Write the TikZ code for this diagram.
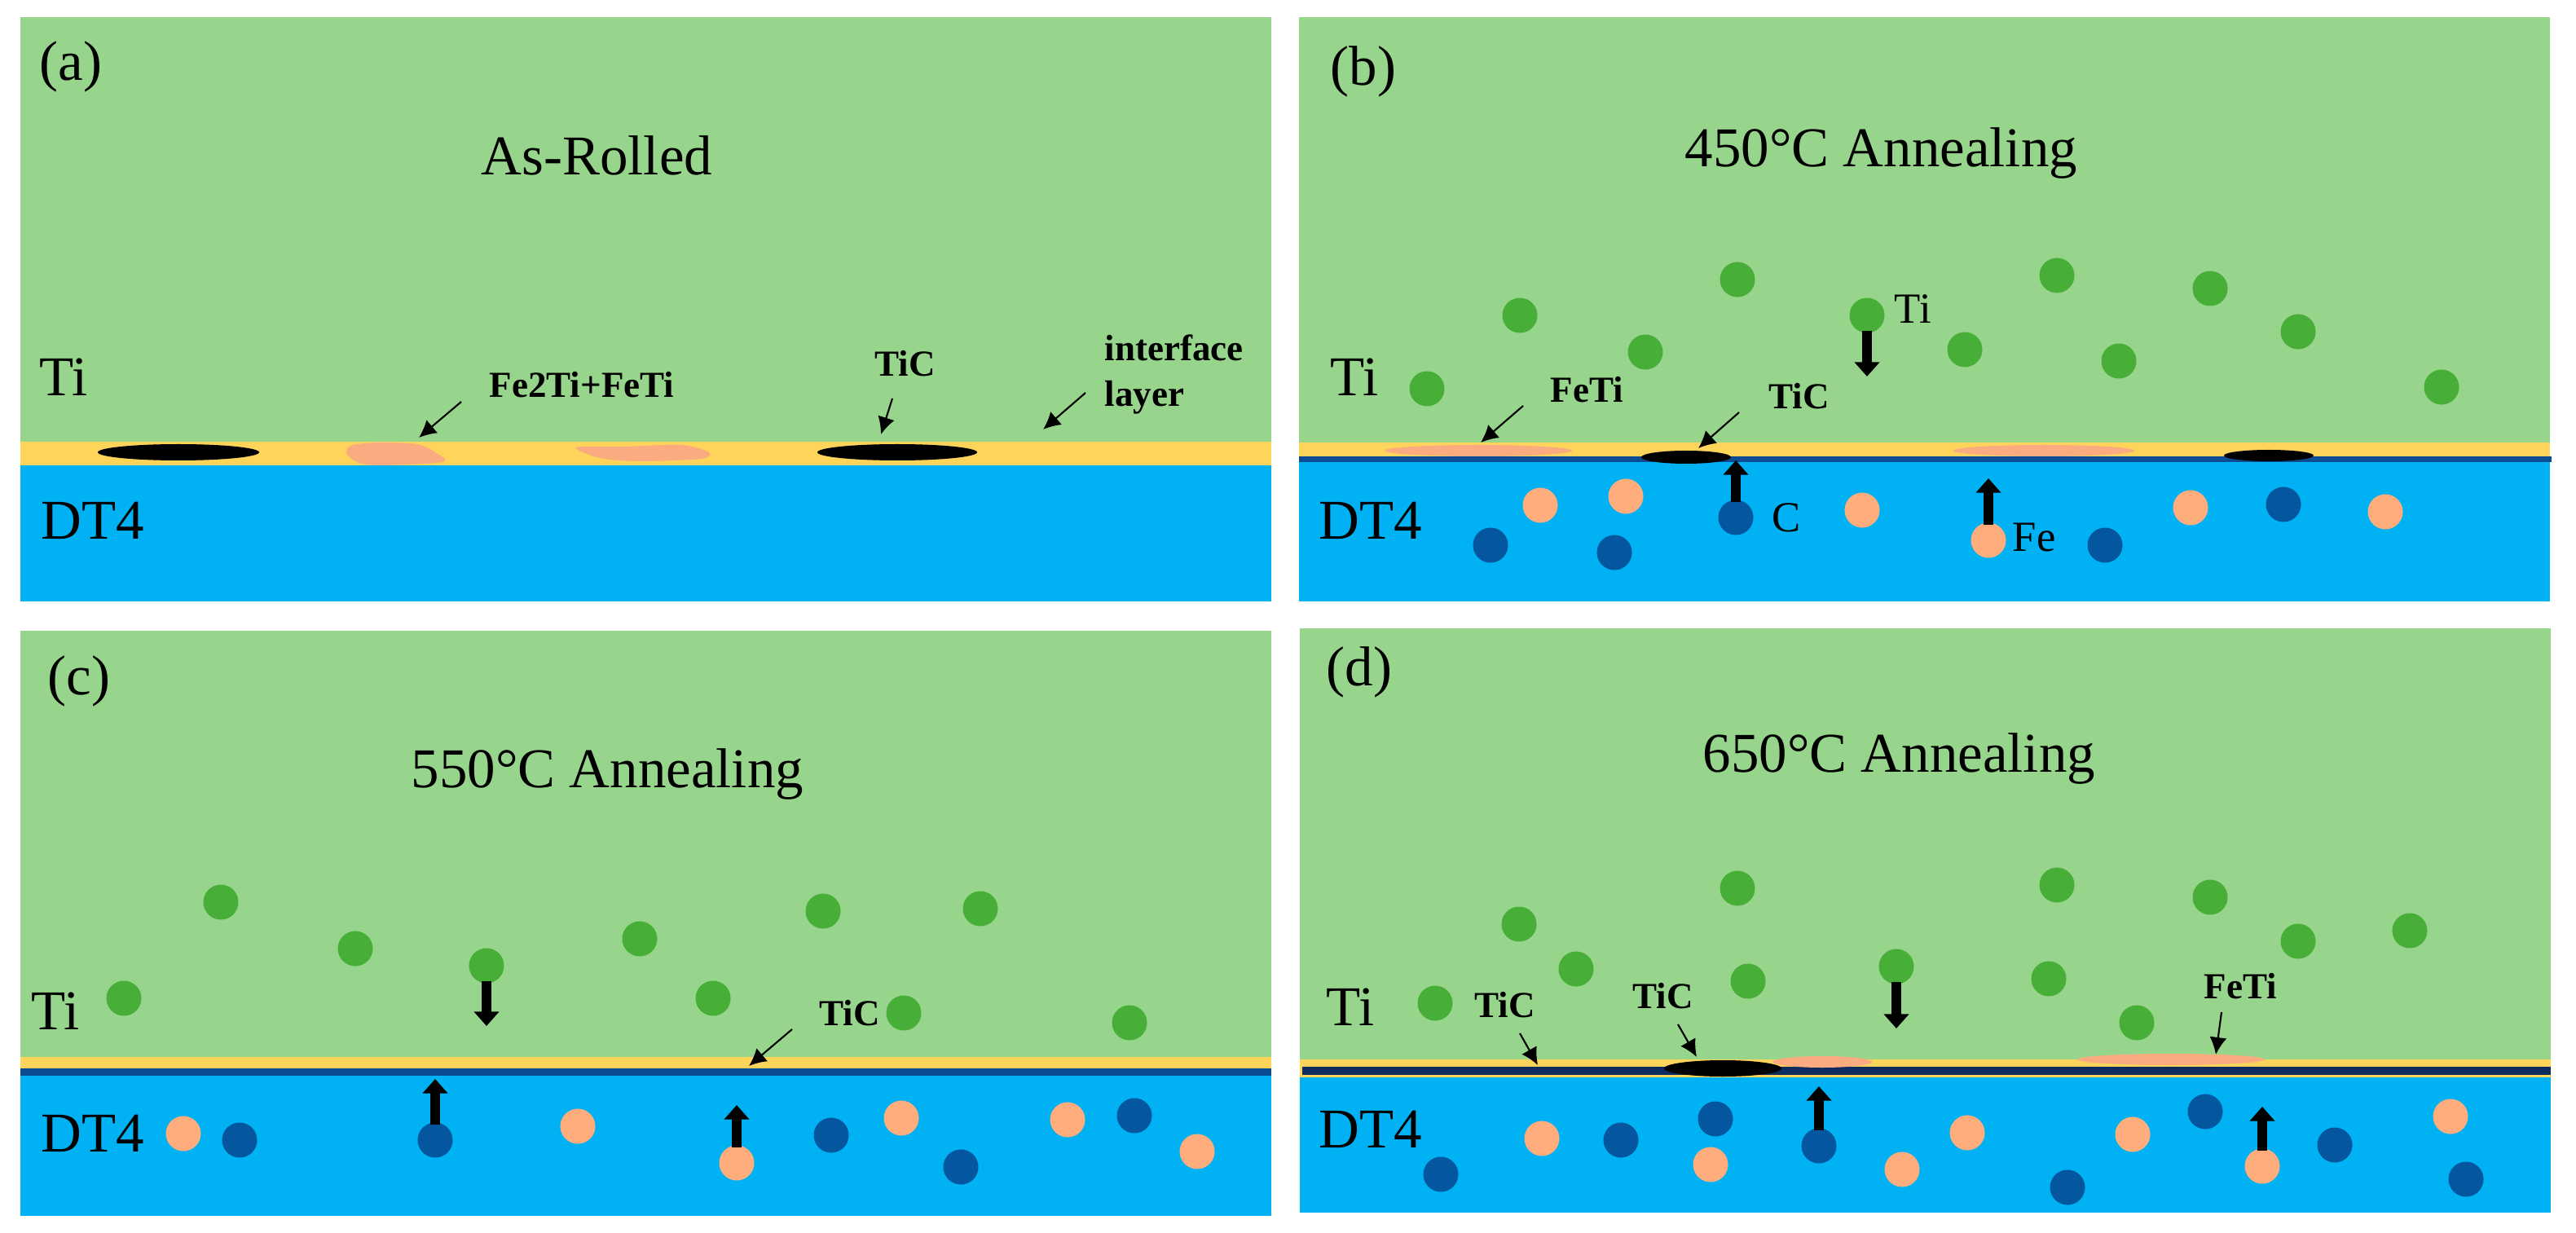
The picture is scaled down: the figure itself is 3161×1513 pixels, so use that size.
\documentclass[tikz,border=0pt]{standalone}
\usepackage{fontspec}
\setmainfont{Liberation Serif}
\usetikzlibrary{arrows.meta}
\definecolor{tigreen}{HTML}{98D58C}
\definecolor{dtblue}{HTML}{00B1F3}
\definecolor{ifyellow}{HTML}{FFD45A}
\definecolor{feticol}{HTML}{FBAB80}
\definecolor{atomti}{HTML}{47AE38}
\definecolor{atomfe}{HTML}{FFAD7C}
\definecolor{atomc}{HTML}{04569E}
\definecolor{tiline}{HTML}{0B4C92}
\definecolor{tilinedark}{HTML}{0C2C60}
\tikzset{
  tilayer/.style={fill=tigreen},
  dtlayer/.style={fill=dtblue},
  iflayer/.style={fill=ifyellow},
  ticpart/.style={fill=black},
  fetipart/.style={fill=feticol},
  tiatom/.style={circle,fill=atomti,minimum size=0.43cm,inner sep=0pt},
  featom/.style={tiatom,fill=atomfe},
  catom/.style={tiatom,fill=atomc},
  bigtext/.style={anchor=base west,inner sep=0pt,font=\fontsize{19.6pt}{22pt}\selectfont},
  atomtext/.style={bigtext,font=\fontsize{15pt}{17pt}\selectfont},
  smalltext/.style={bigtext,font=\fontsize{12.8pt}{15pt}\selectfont\bfseries},
  pointer/.style={-{Latex[length=6pt,width=6pt]},line width=0.6pt},
  flow/.style={-{Triangle[length=5pt,width=8.5pt]},line width=3.6pt,shorten <=-1pt},
}
\begin{document}
\begin{tikzpicture}[x=0.01cm,y=-0.01cm]
  \useasboundingbox (0,0) rectangle (3161,1513);
  % panel a
  \fill[tilayer] (25,21) rectangle (1560,542);
  \fill[iflayer] (25,542) rectangle (1560,571);
  \fill[dtlayer] (25,571) rectangle (1560,738);
  \fill[ticpart] (219,555) ellipse (99 and 10);
  \fill[ticpart] (1101,555) ellipse (98 and 10);
  \fill[fetipart] plot[smooth cycle] coordinates {(430,547)(464,543)(512,545)(534,555)(546,566)(504,570)(448,570)(426,558)};
  \fill[fetipart] plot[smooth cycle] coordinates {(707,549)(766,548)(836,546)(870,555)(860,563)(786,566)(736,562)};
  \node[bigtext] (atag) at (48,99) {(a)};
  \node[bigtext] (atitle) at (590,215) {As-Rolled};
  \node[bigtext] (ati) at (48,486) {Ti};
  \node[bigtext] (adt) at (50,662) {DT4};
  \node[smalltext] (afeti) at (600,488) {Fe2Ti+FeTi};
  \node[smalltext] (atic) at (1073,462) {TiC};
  \node[smalltext] (aif) at (1355,443) {interface};
  \node[smalltext] (alayer) at (1355,499) {layer};
  \coordinate (afetis) at (566,493);
  \coordinate (afetie) at (514,537);
  \coordinate (atics) at (1095,489);
  \coordinate (atice) at (1081,533);
  \coordinate (aifs) at (1332,482);
  \coordinate (aife) at (1280,527);
  \draw[pointer] (afetis)--(afetie);
  \draw[pointer] (atics)--(atice);
  \draw[pointer] (aifs)--(aife);
  % panel b
  \fill[tilayer] (1594,21) rectangle (3129,543);
  \fill[iflayer] (1594,543) rectangle (3129,561);
  \fill[dtlayer] (1594,561) rectangle (3129,738);
  \fill[tiline] (1594,560) rectangle (3131,567);
  \fill[fetipart] (1814,553) ellipse (115 and 7);
  \fill[fetipart] (2508,553) ellipse (111 and 7);
  \fill[ticpart] (2069,561) ellipse (55 and 8);
  \fill[ticpart] (2784,559) ellipse (55 and 7);
  \foreach \x/\y [count=\i] in {2291/387,1751/477,1865/387,2019/432,2132/343,2411/429,2524/338,2600/443,2712/354,2820/407,2996/475}
    \node[tiatom] (bti\i) at (\x,\y) {};
  \foreach \x/\y [count=\i] in {2440/663,1890/620,1995/609,2285/626,2688/623,2927/628}
    \node[featom] (bfe\i) at (\x,\y) {};
  \foreach \x/\y [count=\i] in {2130/635,1829/669,1981/678,2583/669,2802/619}
    \node[catom] (bc\i) at (\x,\y) {};
  \node[bigtext] (btag) at (1632,105) {(b)};
  \node[bigtext] (btitle) at (2067,205) {450°C Annealing};
  \node[bigtext] (bti) at (1632,486) {Ti};
  \node[bigtext] (bdt) at (1618,662) {DT4};
  \node[atomtext] (btilab) at (2324,397) {Ti};
  \node[atomtext] (bclab) at (2174,653) {C};
  \node[atomtext] (bfelab) at (2469,677) {Fe};
  \node[smalltext] (bfeti) at (1902,494) {FeTi};
  \node[smalltext] (btic) at (2170,502) {TiC};
  \coordinate (bfetis) at (1869,498);
  \coordinate (bfetie) at (1817,543);
  \coordinate (btics) at (2134,506);
  \coordinate (btice) at (2084,550);
  \coordinate (btitip) at (2291,462);
  \coordinate (bctip) at (2130,565);
  \coordinate (bfetip) at (2440,587);
  \draw[pointer] (bfetis)--(bfetie);
  \draw[pointer] (btics)--(btice);
  \draw[flow] (bti1.south)--(btitip);
  \draw[flow] (bc1.north)--(bctip);
  \draw[flow] (bfe1.north)--(bfetip);
  % panel c
  \fill[tilayer] (25,774) rectangle (1560,1297);
  \fill[iflayer] (25,1297) rectangle (1560,1312);
  \fill[dtlayer] (25,1312) rectangle (1560,1492);
  \fill[tiline] (25,1311) rectangle (1560,1320);
  \foreach \x/\y [count=\i] in {597/1185,152/1225,271/1107,436/1164,785/1152,875/1225,1010/1118,1203/1115,1109/1243,1386/1255}
    \node[tiatom] (cti\i) at (\x,\y) {};
  \foreach \x/\y [count=\i] in {904/1427,225/1391,709/1382,1106/1372,1310/1374,1469/1413}
    \node[featom] (cfe\i) at (\x,\y) {};
  \foreach \x/\y [count=\i] in {534/1399,294/1399,1020/1393,1179/1432,1392/1369}
    \node[catom] (cc\i) at (\x,\y) {};
  \node[bigtext] (ctag) at (58,853) {(c)};
  \node[bigtext] (ctitle) at (504,966) {550°C Annealing};
  \node[bigtext] (cti) at (38,1263) {Ti};
  \node[bigtext] (cdt) at (50,1413) {DT4};
  \node[smalltext] (ctic) at (1005,1258) {TiC};
  \coordinate (ctics) at (972,1263);
  \coordinate (ctice) at (919,1308);
  \coordinate (ctitip) at (597,1259);
  \coordinate (cctip) at (534,1324);
  \coordinate (cfetip) at (904,1356);
  \draw[pointer] (ctics)--(ctice);
  \draw[flow] (cti1.south)--(ctitip);
  \draw[flow] (cc1.north)--(cctip);
  \draw[flow] (cfe1.north)--(cfetip);
  % panel d
  \fill[tilayer] (1595,771) rectangle (3130,1300);
  \fill[iflayer] (1595,1300) rectangle (3130,1322);
  \fill[dtlayer] (1595,1322) rectangle (3130,1488);
  \fill[tilinedark] (1598,1309) rectangle (3130,1319);
  \fill[fetipart] (2236,1303) ellipse (61 and 7);
  \fill[fetipart] (2664,1300) ellipse (115 and 7);
  \fill[ticpart] (2114,1311) ellipse (72 and 10);
  \foreach \x/\y [count=\i] in {2327/1186,2132/1090,2524/1086,2712/1101,1864/1134,2820/1155,2957/1142,1934/1189,2145/1204,2514/1201,2622/1255,1761/1231}
    \node[tiatom] (dti\i) at (\x,\y) {};
  \foreach \x/\y [count=\i] in {2776/1431,1892/1397,2099/1429,2414/1390,2334/1435,2617/1392,3007/1370}
    \node[featom] (dfe\i) at (\x,\y) {};
  \foreach \x/\y [count=\i] in {2232/1406,1768/1441,1989/1399,2105/1373,2537/1457,2706/1364,2865/1405,3026/1447}
    \node[catom] (dc\i) at (\x,\y) {};
  \node[bigtext] (dtag) at (1627,842) {(d)};
  \node[bigtext] (dtitle) at (2089,947) {650°C Annealing};
  \node[bigtext] (dti) at (1627,1258) {Ti};
  \node[bigtext] (ddt) at (1618,1408) {DT4};
  \node[smalltext] (dtica) at (1809,1248) {TiC};
  \node[smalltext] (dticb) at (2003,1237) {TiC};
  \node[smalltext] (dfeti) at (2704,1225) {FeTi};
  \coordinate (dticas) at (1865,1268);
  \coordinate (dticae) at (1887,1307);
  \coordinate (dticbs) at (2059,1257);
  \coordinate (dticbe) at (2082,1297);
  \coordinate (dfetis) at (2726,1242);
  \coordinate (dfetie) at (2719,1294);
  \coordinate (dtitip) at (2327,1262);
  \coordinate (dctip) at (2232,1333);
  \coordinate (dfetip) at (2776,1358);
  \draw[pointer] (dticas)--(dticae);
  \draw[pointer] (dticbs)--(dticbe);
  \draw[pointer] (dfetis)--(dfetie);
  \draw[flow] (dti1.south)--(dtitip);
  \draw[flow] (dc1.north)--(dctip);
  \draw[flow] (dfe1.north)--(dfetip);
\end{tikzpicture}
\end{document}
